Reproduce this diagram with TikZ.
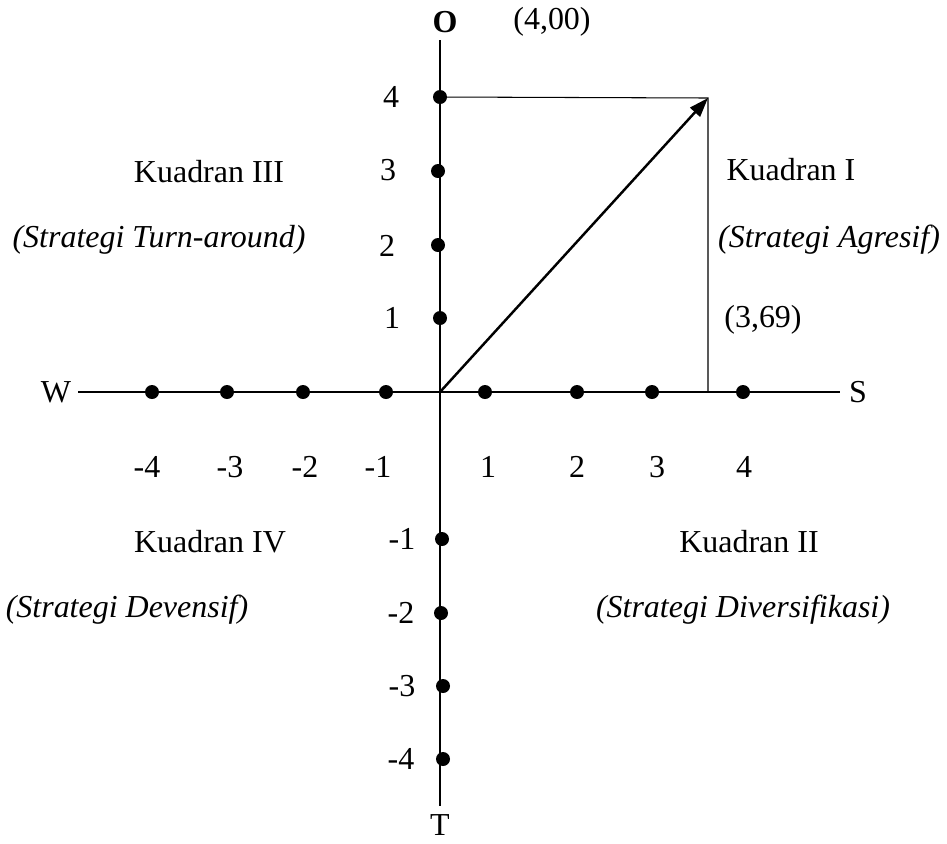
\documentclass[tikz,border=0pt]{standalone}
\usepackage{fontspec}
\setmainfont{Liberation Serif}
\usetikzlibrary{arrows.meta}

\begin{document}
\begin{tikzpicture}[x=0.02cm, y=-0.02cm,
 lbl/.style={font=\fontsize{18.2}{22}\selectfont, inner sep=0pt},
 slbl/.style={font=\fontsize{18.2}{22}\selectfont\itshape, inner sep=0pt},
 dot/.style={circle, fill=black, minimum size=0.28cm, inner sep=0pt},
 axis/.style={line width=0.6pt},
]
 \useasboundingbox (0,0) rectangle (947,843);
 % axis ends
 \coordinate (org) at (440,392);
 \coordinate (wEnd) at (78,392);
 \coordinate (sEnd) at (840,392);
 \coordinate (oEnd) at (440,40);
 \coordinate (tEnd) at (440,806);
 \coordinate (corner) at (708,98);
 \coordinate (foot) at (708,392);
 \draw[axis] (wEnd) -- (sEnd);
 \draw[axis] (oEnd) -- (tEnd);
 \node[lbl] (W) at (56,392) {W};
 \node[lbl] (S) at (858,392) {S};
 \node[lbl, font=\fontsize{18.2}{22}\selectfont\bfseries] (O) at (445,22) {O};
 \node[lbl] (T) at (440,825) {T};
 % dots on the horizontal axis, labels below
 \foreach \x/\t [count=\i] in {152/-4, 227/-3, 303/-2, 386/-1, 485/1, 577/2, 652/3, 743/4}
   \node[dot] (h\i) at (\x,392) {};
 \foreach \x/\t [count=\i] in {147/-4, 230/-3, 305/-2, 378/-1, 488/1, 577/2, 657/3, 744/4}
   \node[lbl] (hl\i) at (\x,467) {\t};
 % dots on the vertical axis, labels to the left
 \foreach \x/\y/\t [count=\i] in {440/97/4, 438/171/3, 438/245/2, 440/318/1,
   442/539/-1, 441/613/-2, 443/686/-3, 443/759/-4}
   \node[dot] (v\i) at (\x,\y) {};
 \foreach \x/\y/\t [count=\i] in {391/97/4, 388/170/3, 387/246/2, 392/318/1,
   402/539/-1, 401/613/-2, 402/686/-3, 401/759/-4}
   \node[lbl] (vl\i) at (\x,\y) {\t};
 % position of the strategy
 \draw[axis] (v1.center) -- (corner) -- (foot);
 \draw[-{Triangle[length=11pt,width=7.5pt]}, line width=1.4pt] (org) -- (corner);
 \node[lbl] (yval) at (552,22) {(4,00)};
 \node[lbl] (xval) at (763,320) {(3,69)};
 % quadrants
 \node[lbl] (q1) at (791,170) {Kuadran I};
 \node[slbl] (s1) at (829,240) {(Strategi Agresif)};
 \node[lbl] (q2) at (749,542) {Kuadran II};
 \node[slbl] (s2) at (743,610) {(Strategi Diversifikasi)};
 \node[lbl] (q3) at (209,172) {Kuadran III};
 \node[slbl] (s3) at (159,240) {(Strategi Turn-around)};
 \node[lbl] (q4) at (210,542) {Kuadran IV};
 \node[slbl] (s4) at (127,610) {(Strategi Devensif)};
\end{tikzpicture}
\end{document}
